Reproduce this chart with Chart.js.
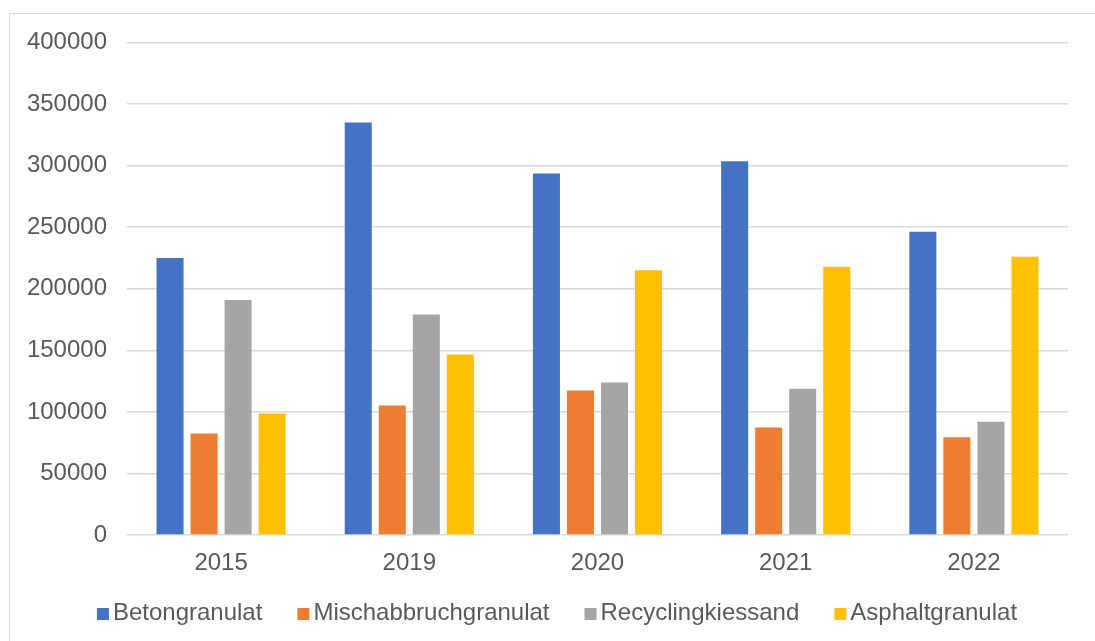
<!DOCTYPE html>
<html>
<head>
<meta charset="utf-8">
<script src="https://cdn.jsdelivr.net/npm/chart.js@4"></script>
<style>
  html, body { margin: 0; padding: 0; background: #ffffff; overflow: hidden; }
  #frame {
    position: absolute; left: 9px; top: 13px;
    width: 1094px; height: 630px;
    border: 1px solid #d9d9d9; background: #ffffff;
  }
  #chart { display: block; }
</style>
</head>
<body>
<div id="frame"><canvas id="chart" width="1094" height="630"></canvas></div>
<script>
// Produktionsmengen von Recyclingbaustoffen (t)
const years = ['2015', '2019', '2020', '2021', '2022'];
const betongranulat       = [225000, 335000, 293700, 303500, 246200];
const mischabbruchgranulat = [82400, 105200, 117400, 87300, 79400];
const recyclingkiessand   = [190800, 179000, 123900, 118700, 91900];
const asphaltgranulat     = [98700, 146500, 215000, 217900, 226000];

const seriesNames = ['Betongranulat', 'Mischabbruchgranulat', 'Recyclingkiessand', 'Asphaltgranulat'];
const seriesColors = ['#4472C4', '#ED7D31', '#A5A5A5', '#FFC000'];
const seriesValues = [betongranulat, mischabbruchgranulat, recyclingkiessand, asphaltgranulat];

const FONT = '"Liberation Sans", Arial, sans-serif';
const TEXT_COLOR = '#595959';

// Legend drawn beneath the axis, centred on the canvas
const bottomLegend = {
  id: 'bottomLegend',
  afterDraw(chart) {
    const ctx = chart.ctx;
    ctx.save();
    ctx.font = '24px ' + FONT;
    ctx.textBaseline = 'alphabetic';
    const box = 12, gap = 4, spacing = 35;
    const items = chart.data.datasets.map(ds => ({
      label: ds.label, color: ds.backgroundColor, w: ctx.measureText(ds.label).width
    }));
    let total = 0;
    items.forEach((it, i) => { total += box + gap + it.w + (i < items.length - 1 ? spacing : 0); });
    let x = (chart.width - total) / 2;
    const baseline = 606;
    items.forEach(it => {
      ctx.fillStyle = it.color;
      ctx.fillRect(x, baseline - 12, box, box);
      ctx.fillStyle = TEXT_COLOR;
      ctx.fillText(it.label, x + box + gap, baseline);
      x += box + gap + it.w + spacing;
    });
    ctx.restore();
  }
};

new Chart(document.getElementById('chart'), {
  type: 'bar',
  data: {
    labels: years,
    datasets: seriesNames.map((name, i) => ({
      label: name,
      data: seriesValues[i],
      backgroundColor: seriesColors[i],
      borderWidth: 0,
      categoryPercentage: 0.7234,
      barPercentage: 0.794
    }))
  },
  options: {
    responsive: false,
    animation: false,
    layout: { padding: { top: 28.5, right: 36, left: 0, bottom: 0 } },
    plugins: { legend: { display: false }, tooltip: { enabled: false } },
    scales: {
      x: {
        grid: { display: false, drawTicks: false },
        border: { display: false },
        ticks: { color: TEXT_COLOR, font: { family: FONT, size: 24 }, padding: 14, maxRotation: 0 },
        afterFit(scale) { scale.height = 109; }
      },
      y: {
        min: 0, max: 400000,
        grid: { color: '#d9d9d9', lineWidth: 1.5, drawTicks: false },
        border: { display: false },
        ticks: {
          stepSize: 50000, color: TEXT_COLOR, padding: 20,
          font: { family: FONT, size: 24, lineHeight: 0.5 },
          callback: v => String(v)
        },
        afterFit(scale) { scale.width = 117; }
      }
    }
  },
  plugins: [bottomLegend]
});
</script>
</body>
</html>
